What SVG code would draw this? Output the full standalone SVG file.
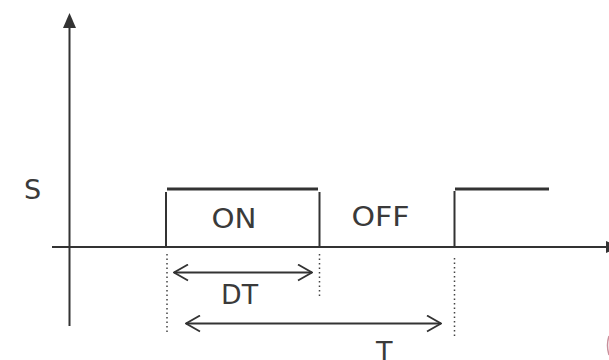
<svg xmlns="http://www.w3.org/2000/svg" width="609" height="360" viewBox="0 0 609 360">
  <style>
    .ax { stroke: #333; stroke-width: 2; fill: none; }
    .sig { stroke: #333; stroke-width: 2; fill: none; }
    .top { stroke: #333; stroke-width: 3; fill: none; }
    .dot { stroke: #444; stroke-width: 1.5; stroke-dasharray: 1.5 3; fill: none; }
    .dim { stroke: #333; stroke-width: 1.8; fill: none; }
    .lbl { font-family: "DejaVu Sans", "Liberation Sans", sans-serif; font-size: 27px; fill: #3a3a3a; }
  </style>
  <defs>
    <marker id="open" viewBox="0 0 16 18" refX="15" refY="9" markerWidth="16" markerHeight="18" markerUnits="userSpaceOnUse" orient="auto-start-reverse">
      <path d="M1,1 L15,9 L1,17" fill="none" stroke="#333" stroke-width="1.8"/>
    </marker>
  </defs>
  <rect width="609" height="360" fill="#ffffff"/>
  <g id="connectors">
    <line class="ax" x1="69.5" y1="326" x2="69.5" y2="26"/>
    <polygon points="69.5,13 63,28 76,28" fill="#333"/>
    <line class="ax" x1="52" y1="247" x2="609" y2="247"/>
    <polygon points="620,247 606,241 606,253" fill="#333"/>
    <line class="dot" x1="167" y1="254" x2="167" y2="332"/>
    <line class="dot" x1="319.5" y1="254" x2="319.5" y2="298"/>
    <line class="dot" x1="454.5" y1="258" x2="454.5" y2="337"/>
    <line class="dim" x1="174" y1="272.5" x2="312" y2="272.5" marker-start="url(#open)" marker-end="url(#open)"/>
    <line class="dim" x1="186" y1="323.5" x2="441" y2="323.5" marker-start="url(#open)" marker-end="url(#open)"/>
  </g>
  <g id="pulse1">
    <line class="sig" x1="166" y1="247" x2="166" y2="192"/>
    <line class="top" x1="167" y1="189" x2="318" y2="189"/>
    <line class="sig" x1="319.5" y1="247" x2="319.5" y2="192"/>
  </g>
  <g id="pulse2">
    <line class="sig" x1="454.5" y1="247" x2="454.5" y2="191"/>
    <line class="top" x1="455" y1="189" x2="549" y2="189"/>
  </g>
  <g id="labels">
    <text class="lbl" x="24" y="199">S</text>
    <text class="lbl" x="211.5" y="227.5" textLength="45" lengthAdjust="spacingAndGlyphs">ON</text>
    <text class="lbl" x="351.5" y="225.5" textLength="58" lengthAdjust="spacingAndGlyphs">OFF</text>
    <text class="lbl" x="221" y="303.5" textLength="37" lengthAdjust="spacingAndGlyphs">DT</text>
    <text class="lbl" x="376" y="361">T</text>
  </g>
  <path d="M609,336 Q606,345 609,355" fill="none" stroke="#b06070" stroke-width="1.5" opacity="0.7"/>
</svg>
